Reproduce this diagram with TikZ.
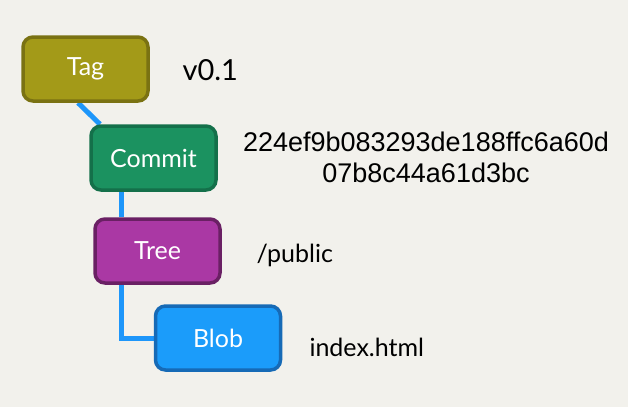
\documentclass[tikz,border=0pt]{standalone}
\usepackage{fontspec}
\setmainfont{Lato}
\newfontfamily\hashfont{Liberation Sans}
\usetikzlibrary{positioning,backgrounds}

\definecolor{bgcol}{RGB}{242,241,236}
\definecolor{linkcol}{RGB}{30,150,250}
\definecolor{tagfill}{RGB}{163,154,24}
\definecolor{tagline}{RGB}{122,114,18}
\definecolor{commitfill}{RGB}{27,146,96}
\definecolor{commitline}{RGB}{20,112,74}
\definecolor{treefill}{RGB}{170,56,164}
\definecolor{treeline}{RGB}{106,32,100}
\definecolor{blobfill}{RGB}{27,156,250}
\definecolor{blobline}{RGB}{22,106,182}

\begin{document}
\begin{tikzpicture}[x=1pt, y=-1pt,
      obj/.style={rectangle, rounded corners=10pt, line width=3.5pt,
      minimum width=125pt, minimum height=64pt, text=white,
      font=\fontsize{25}{29}\selectfont},
      lbl/.style={anchor=west, font=\fontsize{25}{29}\selectfont},
      link/.style={draw=linkcol, line width=5pt} ]
          \useasboundingbox (0,0) rectangle (628,407);
          % the four objects
          \node[obj, fill=tagfill, draw=tagline] (tag) at (85.5,69) {Tag};
          \node[obj, fill=commitfill, draw=commitline] (commit) at (153.5,158) {Commit};
          \node[obj, fill=treefill, draw=treeline] (tree) at (157.5,251) {Tree};
          \node[obj, fill=blobfill, draw=blobline] (blob) at (218,338) {Blob};
          % links, behind the objects
          \coordinate (bend) at (121.5,340);
          \begin{scope}[on background layer]
            \fill[bgcol] (0,0) rectangle (628,407);
            \draw[link] ([xshift=-7.5pt]tag.south) -- ([xshift=-53.5pt]commit.north);
            \draw[link] (commit.south -| bend) -- (tree.north -| bend);
            \draw[link] (tree.south -| bend) |- (blob.west);
          \end{scope}
          % labels
          \node[lbl, font=\fontsize{29}{33}\selectfont] (tagname) at (179,70) {v0.1};
          \node[align=center, font=\hashfont\fontsize{27}{31}\selectfont] (hash) at (426,157)
            {224ef9b083293de188ffc6a60d\\07b8c44a61d3bc};
          \node[lbl] (treename) at (253,255) {/public};
          \node[lbl] (blobname) at (306,347) {index.html};
\end{tikzpicture}
\end{document}
